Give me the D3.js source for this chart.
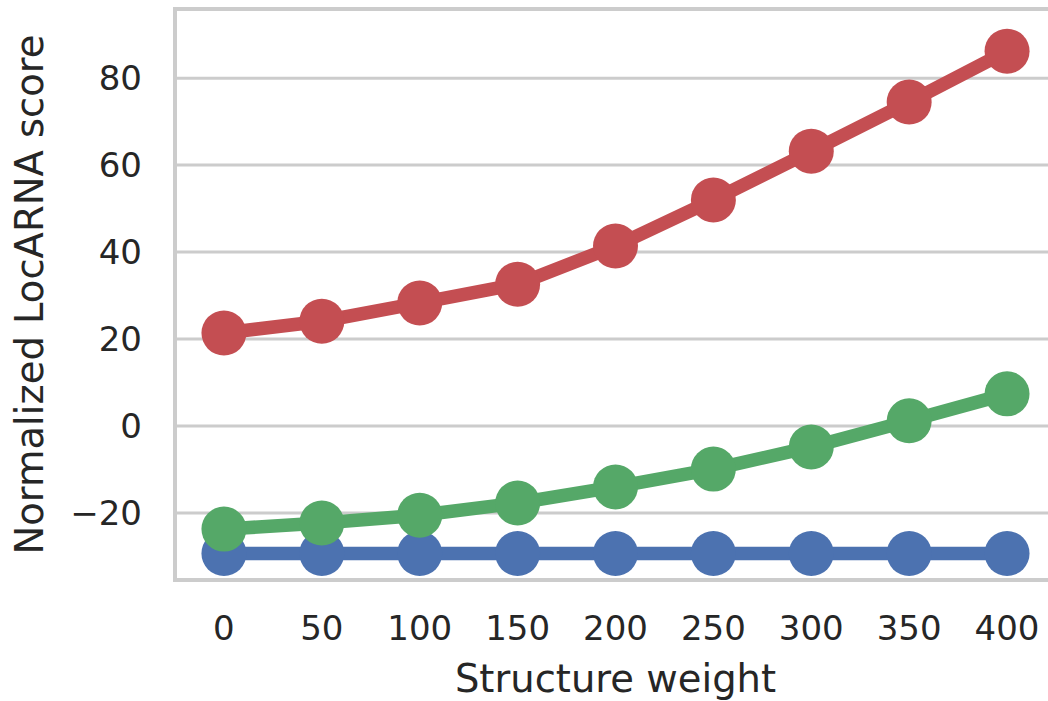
<!DOCTYPE html>
<html>
<head>
<meta charset="utf-8">
<script src="https://cdn.jsdelivr.net/npm/d3@7"></script>
<style>
  html, body { margin: 0; padding: 0; background: #fff; overflow: hidden; }
  text { font-family: "DejaVu Sans", sans-serif; fill: #262626; }
</style>
</head>
<body>
<div id="vis"></div>
<script>
// structure weights on the x axis (categorical, like a seaborn pointplot)
var weights = [0, 50, 100, 150, 200, 250, 300, 350, 400];

// normalized LocARNA score per series
var redScores = [21.4, 24.1, 28.3, 32.6, 41.4, 52.0, 63.2, 74.5, 86.2];
var greenScores = [-23.7, -22.3, -20.5, -17.7, -14.0, -9.9, -4.8, 1.2, 7.4];
var blueScores = [-29.3, -29.3, -29.3, -29.3, -29.3, -29.3, -29.3, -29.3, -29.3];

var yTicks = [-20, 0, 20, 40, 60, 80];

var seriesList = [
  { name: 'blue', color: '#4c72b0', values: blueScores },
  { name: 'green', color: '#55a868', values: greenScores },
  { name: 'red', color: '#c44e52', values: redScores }
];

var width = 1048;
var height = 701;
// the axes runs past the right edge of the picture (it is cropped there)
var margin = { top: 9, right: -8, bottom: 121, left: 175 };
var innerW = width - margin.left - margin.right;
var innerH = height - margin.top - margin.bottom;

var svg = d3.select('#vis').append('svg')
  .attr('width', width)
  .attr('height', height);

var g = svg.append('g')
  .attr('transform', 'translate(' + margin.left + ',' + margin.top + ')');

// categorical positions: index -0.5 .. n-0.5 spans the whole axes
var x = d3.scaleLinear()
  .domain([-0.5, weights.length - 0.5])
  .range([0, innerW]);

var y = d3.scaleLinear()
  .domain([-35.4, 95.9])
  .range([innerH, 0]);

// horizontal grid
g.selectAll('.grid')
  .data(yTicks)
  .enter().append('line')
  .attr('class', 'grid')
  .attr('x1', 0)
  .attr('x2', innerW)
  .attr('y1', function (d) { return y(d); })
  .attr('y2', function (d) { return y(d); })
  .attr('stroke', '#cccccc')
  .attr('stroke-width', 3);

// spines
g.append('rect')
  .attr('x', 0)
  .attr('y', 0)
  .attr('width', innerW)
  .attr('height', innerH)
  .attr('fill', 'none')
  .attr('stroke', '#cccccc')
  .attr('stroke-width', 4);

// y tick labels
g.selectAll('.ytick')
  .data(yTicks)
  .enter().append('text')
  .attr('class', 'ytick')
  .attr('x', -33)
  .attr('y', function (d) { return y(d); })
  .attr('dy', '0.36em')
  .attr('text-anchor', 'end')
  .style('font-size', '34px')
  .text(function (d) { return d < 0 ? '\u2212' + Math.abs(d) : d; });

// x tick labels
g.selectAll('.xtick')
  .data(weights)
  .enter().append('text')
  .attr('class', 'xtick')
  .attr('x', function (d, i) { return x(i); })
  .attr('y', innerH + 60)
  .attr('text-anchor', 'middle')
  .style('font-size', '34px')
  .text(function (d) { return d; });

// axis labels
svg.append('text')
  .attr('x', margin.left + innerW / 2)
  .attr('y', 692)
  .attr('text-anchor', 'middle')
  .style('font-size', '38.5px')
  .text('Structure weight');

svg.append('text')
  .attr('transform', 'translate(43,' + (margin.top + innerH / 2) + ') rotate(-90)')
  .attr('text-anchor', 'middle')
  .style('font-size', '38.5px')
  .text('Normalized LocARNA score');

var line = d3.line()
  .x(function (d, i) { return x(i); })
  .y(function (d) { return y(d); });

seriesList.forEach(function (s) {
  var sg = g.append('g').attr('class', 'series-' + s.name);
  sg.append('path')
    .datum(s.values)
    .attr('d', line)
    .attr('fill', 'none')
    .attr('stroke', s.color)
    .attr('stroke-width', 13.5);
  sg.selectAll('circle')
    .data(s.values)
    .enter().append('circle')
    .attr('cx', function (d, i) { return x(i); })
    .attr('cy', function (d) { return y(d); })
    .attr('r', 22.5)
    .attr('fill', s.color);
});
</script>
</body>
</html>
